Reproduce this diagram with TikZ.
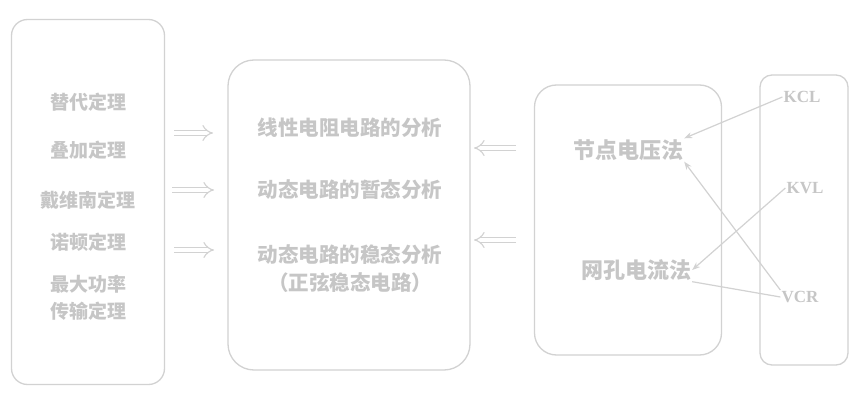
\documentclass[tikz,border=0pt]{standalone}
\usepackage{fontspec}
\setmainfont{Noto Sans CJK SC}
\newfontfamily\latinserif{Liberation Serif}
\usetikzlibrary{arrows.meta}
\definecolor{lineg}{HTML}{D2D2D2}
\definecolor{textg}{HTML}{C6C6C6}
\begin{document}
\begin{tikzpicture}[x=1pt,y=-1pt,
  box/.style={draw=lineg,line width=1.3pt,rounded corners=#1,inner sep=0pt},
  lbl/.style={text=textg,font=\fontsize{19}{27}\selectfont\bfseries,align=center,inner sep=1pt},
  mlbl/.style={lbl,font=\fontsize{20.5}{28}\selectfont\bfseries},
  rlbl/.style={lbl,font=\fontsize{22}{28}\selectfont\bfseries},
  sml/.style={text=textg,font=\fontsize{17}{19}\latinserif\bfseries,inner sep=1pt},
  hollow/.style={draw=lineg,double=white,double distance=4.5pt,line width=1.1pt,-{Implies}},
  link/.style={draw=lineg,line width=1.2pt},
  linkar/.style={link,-{Stealth[length=8pt,width=6pt]}}]
\useasboundingbox (0,0) rectangle (855,393);
\fill[white] (0,0) rectangle (855,393);
% boxes
\node[box=16pt,minimum width=153pt,minimum height=365pt] (lbox) at (88,202) {};
\node[box=26pt,minimum width=242pt,minimum height=310pt] (mbox) at (349,215) {};
\node[box=22pt,minimum width=187pt,minimum height=270pt] (rmbox) at (628,220) {};
\node[box=12pt,minimum width=88pt,minimum height=290pt] (rbox) at (804,220) {};
% left texts
\node[lbl] (l1) at (88,102) {替代定理};
\node[lbl] (l2) at (88,150) {叠加定理};
\node[lbl] (l3) at (88,200) {戴维南定理};
\node[lbl] (l4) at (88,242) {诺顿定理};
\node[lbl] (l5) at (88,298) {最大功率\\传输定理};
% middle texts
\node[mlbl] (m1) at (350,128) {线性电阻电路的分析};
\node[mlbl] (m2) at (350,190) {动态电路的暂态分析};
\node[mlbl] (m3) at (350,269) {动态电路的稳态分析\\（正弦稳态电路）};
% right-middle texts
\node[rlbl] (n1) at (628,150) {节点电压法};
\node[rlbl] (n2) at (636,270) {网孔电流法};
% right texts
\node[sml] (kcl) at (802,97) {KCL};
\node[sml] (kvl) at (805,188) {KVL};
\node[sml] (vcr) at (800,297) {VCR};
% hollow arrows left -> middle
\coordinate (a1s) at (174,133); \coordinate (a1e) at (213,133);
\coordinate (a2s) at (172,190); \coordinate (a2e) at (214,190);
\coordinate (a3s) at (174,250); \coordinate (a3e) at (214,250);
\draw[hollow] (a1s) -- (a1e);
\draw[hollow] (a2s) -- (a2e);
\draw[hollow] (a3s) -- (a3e);
% hollow arrows right-middle -> middle
\coordinate (b1s) at (516,148); \coordinate (b1e) at (474,148);
\coordinate (b2s) at (516,240); \coordinate (b2e) at (474,240);
\draw[hollow] (b1s) -- (b1e);
\draw[hollow] (b2s) -- (b2e);
% links
\draw[linkar] (kcl.west) -- (n1.north east);
\draw[linkar] (vcr.north west) -- (n1.south east);
\draw[linkar] (kvl.west) -- (n2.east);
\draw[link] (vcr.west) -- (n2.south east);
\end{tikzpicture}
\end{document}
